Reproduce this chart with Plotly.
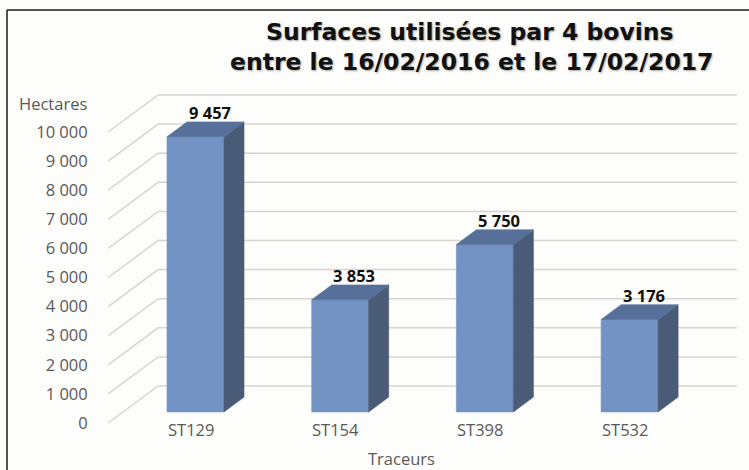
import plotly.graph_objects as go

# ---------------- data ----------------
categories = ["ST129", "ST154", "ST398", "ST532"]
surfaces = [9457, 3853, 5750, 3176]
value_labels = ["9 457", "3 853", "5 750", "3 176"]
y_tickvals = [0, 1000, 2000, 3000, 4000, 5000, 6000, 7000, 8000, 9000, 10000]
y_ticktext = ["0", "1 000", "2 000", "3 000", "4 000", "5 000",
              "6 000", "7 000", "8 000", "9 000", "10 000"]
title_lines = ["Surfaces utilisées par 4 bovins",
               "entre le 16/02/2016 et le 17/02/2017"]
y_title = "Hectares"
x_title = "Traceurs"

# ---------------- geometry (oblique 3D projection) ----------------
W, H = 749, 470
ML = 104                     # left margin (px)
CAT_PX = 144.7               # px per category slot
CAT0_PX = 180.5              # px of first category on the front plane
Y_PX = 29.1 / 1000           # px per hectare
ZERO_PX = 423                # px of value 0 on the front plane
DEPTH_X_PX, DEPTH_Y_PX = 50, 37

x_range = [(ML - CAT0_PX) / CAT_PX, (W - CAT0_PX) / CAT_PX]
y_range = [-(H - ZERO_PX) / Y_PX, ZERO_PX / Y_PX]
DX = DEPTH_X_PX / CAT_PX
DY = DEPTH_Y_PX / Y_PX
FLOOR_L, FLOOR_R = -0.5, len(categories) - 0.5
BAR_HALF = 28.5 / CAT_PX
D_FRONT, D_BACK = 0.3, 0.7

FRONT_COL = "#7293c4"
SIDE_COL = "#4a5b77"
TOP_COL = "#57709a"
GRID_COL = "#d9d4ce"
TXT_COL = "#595959"


def px_x(px):
    return (px - ML) / (W - ML)


def px_y(py):
    return 1 - py / H


fig = go.Figure()

# walls gridlines
gx, gy = [], []
for v in y_tickvals:
    gx += [FLOOR_L, FLOOR_L + DX, FLOOR_R + DX, None]
    gy += [v, v + DY, v + DY, None]
fig.add_trace(go.Scatter(x=gx, y=gy, mode="lines",
                         line=dict(color=GRID_COL, width=1.5),
                         hoverinfo="skip"))

# bars
for i, (cat, v) in enumerate(zip(categories, surfaces)):
    xf = i + D_FRONT * DX
    xb = i + D_BACK * DX
    yf = D_FRONT * DY
    yb = D_BACK * DY
    faces = [
        ([xf - BAR_HALF, xf + BAR_HALF, xf + BAR_HALF, xf - BAR_HALF, xf - BAR_HALF],
         [yf, yf, v + yf, v + yf, yf], FRONT_COL),
        ([xf + BAR_HALF, xb + BAR_HALF, xb + BAR_HALF, xf + BAR_HALF, xf + BAR_HALF],
         [yf, yb, v + yb, v + yf, yf], SIDE_COL),
        ([xf - BAR_HALF, xf + BAR_HALF, xb + BAR_HALF, xb - BAR_HALF, xf - BAR_HALF],
         [v + yf, v + yf, v + yb, v + yb, v + yf], TOP_COL),
    ]
    for fx, fy, col in faces:
        fig.add_trace(go.Scatter(x=fx, y=fy, mode="lines", fill="toself",
                                 fillcolor=col, line=dict(color=col, width=0.6),
                                 name=cat, hoverinfo="skip"))
    fig.add_annotation(x=i + 0.5 * DX + 4 / CAT_PX, y=v + yb, xref="x", yref="y",
                       text=value_labels[i], showarrow=False, yanchor="middle",
                       yshift=9,
                       font=dict(family="Open Sans", size=16.5, color="#111111",
                                 weight=700))
    fig.add_annotation(x=i + 10.5 / CAT_PX, y=-(429 - ZERO_PX) / Y_PX,
                       xref="x", yref="y", text=cat, showarrow=False,
                       yanchor="middle",
                       font=dict(family="Open Sans", size=16.5, color=TXT_COL))

# axis titles
fig.add_annotation(x=px_x(89), y=px_y(103), xref="paper", yref="paper",
                   text=y_title, showarrow=False, xanchor="right", yanchor="middle",
                   font=dict(family="Open Sans", size=16.5, color=TXT_COL))
fig.add_annotation(x=px_x(401), y=px_y(458), xref="paper", yref="paper",
                   text=x_title, showarrow=False, xanchor="center", yanchor="middle",
                   borderpad=0,
                   font=dict(family="Open Sans", size=16.5, color=TXT_COL))

# title
for line, cx, cy in zip(title_lines, [470, 471], [32, 62]):
    fig.add_annotation(x=px_x(cx), y=px_y(cy), xref="paper", yref="paper",
                       text=line, showarrow=False, xanchor="center", yanchor="middle",
                       font=dict(family="DejaVu Sans", size=23.5, color="#111111",
                                 weight=700, shadow="1px 1px 2px rgba(0,0,0,0.35)"))

# chart border (top and left)
fig.add_shape(type="line", xref="paper", yref="paper",
              x0=px_x(7), y0=px_y(10), x1=px_x(760), y1=px_y(10),
              line=dict(color="#1a1a1a", width=1.5))
fig.add_shape(type="line", xref="paper", yref="paper",
              x0=px_x(7), y0=px_y(10), x1=px_x(7), y1=px_y(480),
              line=dict(color="#1a1a1a", width=1.5))

fig.update_layout(
    width=W, height=H, autosize=False,
    margin=dict(l=ML, r=0, t=0, b=0),
    paper_bgcolor="#fdfdfb", plot_bgcolor="rgba(0,0,0,0)",
    showlegend=False,
    xaxis=dict(range=x_range, visible=False, fixedrange=True),
    yaxis=dict(range=y_range, tickvals=y_tickvals, ticktext=y_ticktext,
               showgrid=False, zeroline=False, showline=False,
               ticks="outside", ticklen=12, tickcolor="rgba(0,0,0,0)",
               tickfont=dict(family="Open Sans", size=16.5, color=TXT_COL),
               fixedrange=True),
)

fig.write_html(
    "out.html",
    config={"displayModeBar": False},
    post_script="document.body.style.margin='0';"
                "document.body.style.overflow='hidden';"
                "document.body.style.background='#fdfdfb';",
)
